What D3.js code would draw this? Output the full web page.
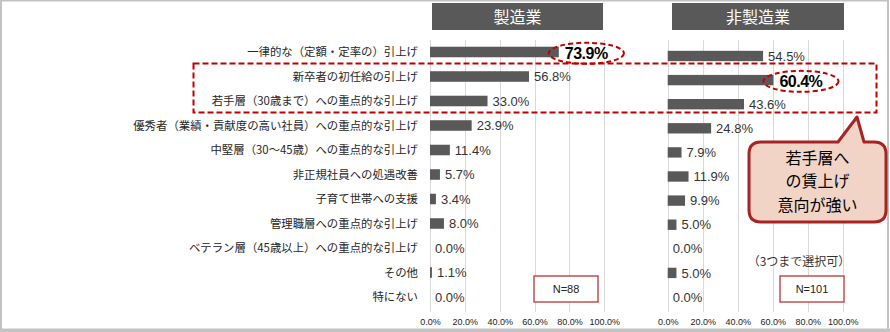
<!DOCTYPE html>
<html><head><meta charset="utf-8">
<script src="https://cdn.jsdelivr.net/npm/d3@7/dist/d3.min.js"></script>
<style>
body{margin:0;background:#fff;}
svg{display:block;font-family:"Noto Sans CJK JP","Noto Sans",sans-serif;}
</style></head>
<body><svg id="c" width="890" height="332"></svg>
<script>
const categories = ["一律的な（定額・定率の）引上げ","新卒者の初任給の引上げ","若手層（30歳まで）への重点的な引上げ","優秀者（業績・貢献度の高い社員）への重点的な引上げ","中堅層（30～45歳）への重点的な引上げ","非正規社員への処遇改善","子育て世帯への支援","管理職層への重点的な引上げ","ベテラン層（45歳以上）への重点的な引上げ","その他","特にない"];
const manufacturing = [73.9,56.8,33.0,23.9,11.4,5.7,3.4,8.0,0.0,1.1,0.0];
const nonManufacturing = [54.5,60.4,43.6,24.8,7.9,11.9,9.9,5.0,0.0,5.0,0.0];
const panelTitles = ["製造業","非製造業"];
const sampleSizes = ["N=88","N=101"];
const highlightIndex = [0,1];
const tickValues = [0,20,40,60,80,100];
const calloutLines = ["若手層へ","の賃上げ","意向が強い"];
const noteText = "（3つまで選択可）";

const svg = d3.select("#c");
// outer frame
svg.append("rect").attr("x",1).attr("y",0.5).attr("width",887).attr("height",329)
  .attr("fill","none").attr("stroke","#c3c3c3").attr("stroke-width",2);
svg.append("line").attr("x1",0).attr("x2",890).attr("y1",330.5).attr("y2",330.5).attr("stroke","#c3c3c3").attr("stroke-width",3);

const panels = [
  {data:manufacturing, x0:430, x1:604.3, y0:39.75, step:24.5, hx0:432, hx1:603, nbox:[534,276,64,26]},
  {data:nonManufacturing, x0:667.7, x1:842.7, y0:43.95, step:24.1, hx0:672, hx1:844, nbox:[780,276,64,26]}
];

panels.forEach((p,pi)=>{
  const x = d3.scaleLinear().domain([0,100]).range([p.x0,p.x1]);
  const y = d3.scaleBand().domain(categories).range([p.y0, p.y0+p.step*categories.length])
    .paddingInner(0.57).paddingOuter(0.285);
  const g = svg.append("g");
  // gridlines
  g.selectAll("line.grid").data(tickValues).join("line")
    .attr("x1",d=>Math.round(x(d))+0.5).attr("x2",d=>Math.round(x(d))+0.5)
    .attr("y1",40).attr("y2",312).attr("stroke","#d9d9d9").attr("stroke-width",1);
  // axis
  const ax = g.append("g").attr("transform","translate(0,314)")
    .call(d3.axisBottom(x).tickValues(tickValues).tickSize(0).tickFormat(d=>d3.format(".1f")(d)+"%"));
  ax.select(".domain").remove();
  ax.selectAll("text").attr("font-size",9).attr("fill","#222").attr("dy","0.9em")
    .attr("font-family","'Liberation Sans Narrow','Liberation Sans',sans-serif");
  // header
  g.append("rect").attr("x",p.hx0).attr("y",3).attr("width",p.hx1-p.hx0).attr("height",27).attr("fill","#595959");
  g.append("text").attr("x",(p.hx0+p.hx1)/2).attr("y",17).attr("dy","0.36em").attr("text-anchor","middle")
    .attr("fill","#fff").attr("font-size",16).text(panelTitles[pi]);
  // bars
  g.selectAll("rect.bar").data(p.data).join("rect")
    .attr("x",x(0)).attr("y",(d,i)=>y(categories[i]))
    .attr("width",d=>x(d)-x(0)).attr("height",y.bandwidth()).attr("fill","#595959");
  // labels
  g.selectAll("text.val").data(p.data).join("text")
    .attr("x",(d,i)=>x(d)+(i===highlightIndex[pi]?6:5))
    .attr("y",(d,i)=>y(categories[i])+y.bandwidth()/2+(i===highlightIndex[pi]?1:0))
    .attr("dy","0.36em")
    .attr("font-size",(d,i)=>i===highlightIndex[pi]?16:13)
    .attr("font-weight",(d,i)=>i===highlightIndex[pi]?"bold":"normal")
    .attr("fill",(d,i)=>i===highlightIndex[pi]?"#000":"#333")
    .attr("font-family","'Liberation Sans',sans-serif")
    .attr("letter-spacing",(d,i)=>i===highlightIndex[pi]?"-0.5":"0")
    .each(function(d,i){
      d3.select(this).text(d3.format(".1f")(d)+"%");
      if(i===highlightIndex[pi]){
        const b = this.getBBox();
        g.append("ellipse").attr("cx",b.x+b.width/2).attr("cy",b.y+b.height/2)
          .attr("rx",b.width/2+16).attr("ry",10.5)
          .attr("fill","none").attr("stroke","#c00000").attr("stroke-width",2).attr("stroke-dasharray","5,3");
      }
    });
  // N box
  const [bx,by,bw,bh] = p.nbox;
  g.append("rect").attr("x",bx).attr("y",by).attr("width",bw).attr("height",bh)
    .attr("fill","#fff").attr("stroke","#c0504d").attr("stroke-width",1.5);
  g.append("text").attr("x",bx+bw/2).attr("y",by+bh/2).attr("dy","0.36em").attr("text-anchor","middle")
    .attr("font-size",11).attr("fill","#222").attr("font-family","'Liberation Sans',sans-serif").text(sampleSizes[pi]);

  if(pi===0){
    svg.append("g").selectAll("text").data(categories).join("text")
      .attr("x",418).attr("y",d=>y(d)+y.bandwidth()/2).attr("dy","0.36em")
      .attr("text-anchor","end").attr("font-size",11.4).attr("fill","#262626").text(d=>d);
  }
});

// dashed highlight rectangle
svg.append("rect").attr("x",193.5).attr("y",63.5).attr("width",683).attr("height",49)
  .attr("fill","none").attr("stroke","#c00000").attr("stroke-width",2).attr("stroke-dasharray","6,3");

// callout
const L=749,T=142,R=886,B=222,r=12;
const path = `M${L+r},${T} L838,${T} L857,117 L864,${T} L${R-r},${T} Q${R},${T} ${R},${T+r} L${R},${B-r} Q${R},${B} ${R-r},${B} L${L+r},${B} Q${L},${B} ${L},${B-r} L${L},${T+r} Q${L},${T} ${L+r},${T} Z`;
svg.append("path").attr("d",path).attr("fill","#f2d4c6").attr("stroke","#a82424").attr("stroke-width",3).attr("stroke-linejoin","round");
svg.append("g").selectAll("text").data(calloutLines).join("text")
  .attr("text-anchor","middle").attr("font-size",16).attr("fill","#000")
  .attr("x",(L+R)/2).attr("y",(d,i)=>158+i*23.5).attr("dy","0.36em").text(d=>d);

svg.append("text").attr("x",799).attr("y",262).attr("dy","0.36em").attr("text-anchor","middle")
  .attr("font-size",12).attr("fill","#333").text(noteText);
</script></body></html>
